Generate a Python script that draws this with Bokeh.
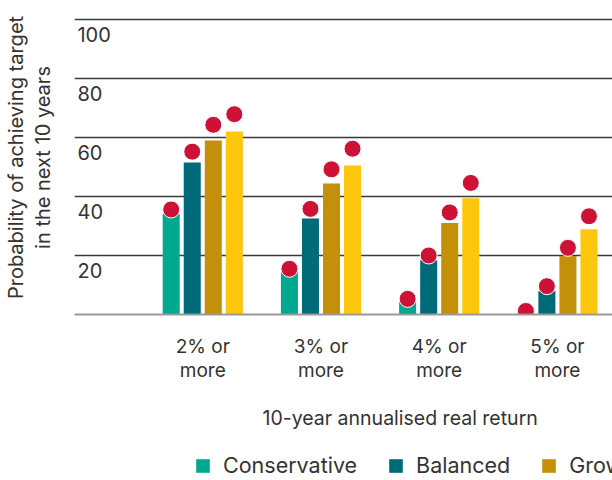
from bokeh.plotting import figure
from bokeh.layouts import column
from bokeh.models import FixedTicker, Legend, LegendItem, Range1d, Title
from bokeh.core.properties import value
from bokeh.embed import file_html
from bokeh.resources import INLINE

# ---- data ----
categories = ["2% or\nmore", "3% or\nmore", "4% or\nmore", "5% or\nmore"]
series_names = ["Conservative", "Balanced", "Growth", "Aggressive"]
conservative = [34.1, 14.3, 4.5, 0.6]
balanced = [51.5, 32.5, 18.4, 7.9]
growth = [59.0, 44.4, 31.0, 19.8]
aggressive = [62.0, 50.5, 39.4, 28.9]
dot_conservative = [35.6, 15.5, 5.3, 1.2]
dot_balanced = [55.2, 35.8, 20.0, 9.6]
dot_growth = [64.3, 49.2, 34.6, 22.6]
dot_aggressive = [67.9, 56.2, 44.6, 33.3]
y_ticks = [20, 40, 60, 80, 100]

FONT = "Inter"
TXT = "#333333"
colors = ["#00A88F", "#006B78", "#C4900A", "#FEC60D"]
dot_color = "#CD1236"

group_x = [1, 2, 3, 4]
offsets = [-0.267, -0.089, 0.089, 0.267]
bar_w = 0.144

p = figure(width=612, height=448, output_backend="svg", toolbar_location=None,
           x_range=Range1d(-0.085, 4.466), y_range=Range1d(0, 106.44),
           min_border_left=74, min_border_right=0, min_border_top=0,
           min_border_bottom=134)
p.outline_line_color = None
p.background_fill_color = "white"
p.border_fill_color = "white"

# grid
p.xgrid.grid_line_color = None
p.ygrid.ticker = FixedTicker(ticks=y_ticks)
p.ygrid.grid_line_color = "#3a3a3a"
p.ygrid.grid_line_width = 1.5

# y axis: title only
p.yaxis.ticker = FixedTicker(ticks=[])
p.yaxis.major_tick_line_color = None
p.yaxis.minor_tick_line_color = None
p.yaxis.axis_line_color = None
p.yaxis.axis_label = "Probability of achieving target\nin the next 10 years"
p.yaxis.axis_label_text_font = FONT
p.yaxis.axis_label_text_font_size = "20px"
p.yaxis.axis_label_text_font_style = "normal"
p.yaxis.axis_label_text_color = TXT
p.yaxis.axis_label_text_line_height = 1.1
p.yaxis.axis_label_standoff = 20

# x axis
p.xaxis.ticker = FixedTicker(ticks=group_x)
p.xaxis.major_label_overrides = {g: c for g, c in zip(group_x, categories)}
p.xaxis.major_label_text_font = FONT
p.xaxis.major_label_text_font_size = "19px"
p.xaxis.major_label_text_color = TXT
p.xaxis.major_label_text_line_height = 1.05
p.xaxis.major_label_standoff = 14
p.xaxis.major_tick_line_color = None
p.xaxis.minor_tick_line_color = None
p.xaxis.axis_line_color = "#999999"
p.xaxis.axis_line_width = 2

# bars
all_bars = [conservative, balanced, growth, aggressive]
for vals, off, col in zip(all_bars, offsets, colors):
    xs = [g + off for g in group_x]
    p.vbar(x=xs, top=vals, bottom=0, width=bar_w, fill_color=col, line_color=None)

# dots
all_dots = [dot_conservative, dot_balanced, dot_growth, dot_aggressive]
for vals, off in zip(all_dots, offsets):
    xs = [g + off for g in group_x]
    p.scatter(x=xs, y=vals, size=17, fill_color=dot_color, line_color="white", line_width=1)

# y tick labels inside the frame, below gridlines
p.text(x=[-0.06] * len(y_ticks), y=y_ticks, text=[str(v) for v in y_ticks],
       text_font=value(FONT), text_font_size="20px", text_color=TXT,
       text_align="left", text_baseline="top", y_offset=8)

# x axis title (offset to the right, as in the source chart)
xtitle = Title(text="10-year annualised real return", align="left", offset=188,
               text_font=FONT, text_font_size="19.5px", text_font_style="normal",
               text_color=TXT, standoff=38)
p.add_layout(xtitle, "below")

# legend strip (frames of a column are aligned, so x is relative to x=74)
p2 = figure(width=612, height=32, output_backend="svg", toolbar_location=None,
            x_range=Range1d(0, 1), y_range=Range1d(0, 1), min_border=0)
p2.xaxis.visible = False
p2.yaxis.visible = False
p2.grid.visible = False
p2.outline_line_color = None
leg_renderers = [p2.vbar(x=[-5], top=[0], bottom=0, width=0.1, fill_color=c, line_color=None)
                 for c in colors[:3]]
legend = Legend(items=[LegendItem(label=series_names[i], renderers=[leg_renderers[i]]) for i in range(3)],
                orientation="horizontal", location=(120, 2),
                glyph_width=17, glyph_height=17, label_height=17, label_standoff=12,
                spacing=30, padding=0, margin=0, border_line_color=None,
                background_fill_alpha=0, label_text_font=FONT,
                label_text_font_size="21.5px", label_text_color=TXT)
p2.add_layout(legend)

layout = column(p, p2, spacing=0)
open("out.html", "w").write(file_html(layout, INLINE))
